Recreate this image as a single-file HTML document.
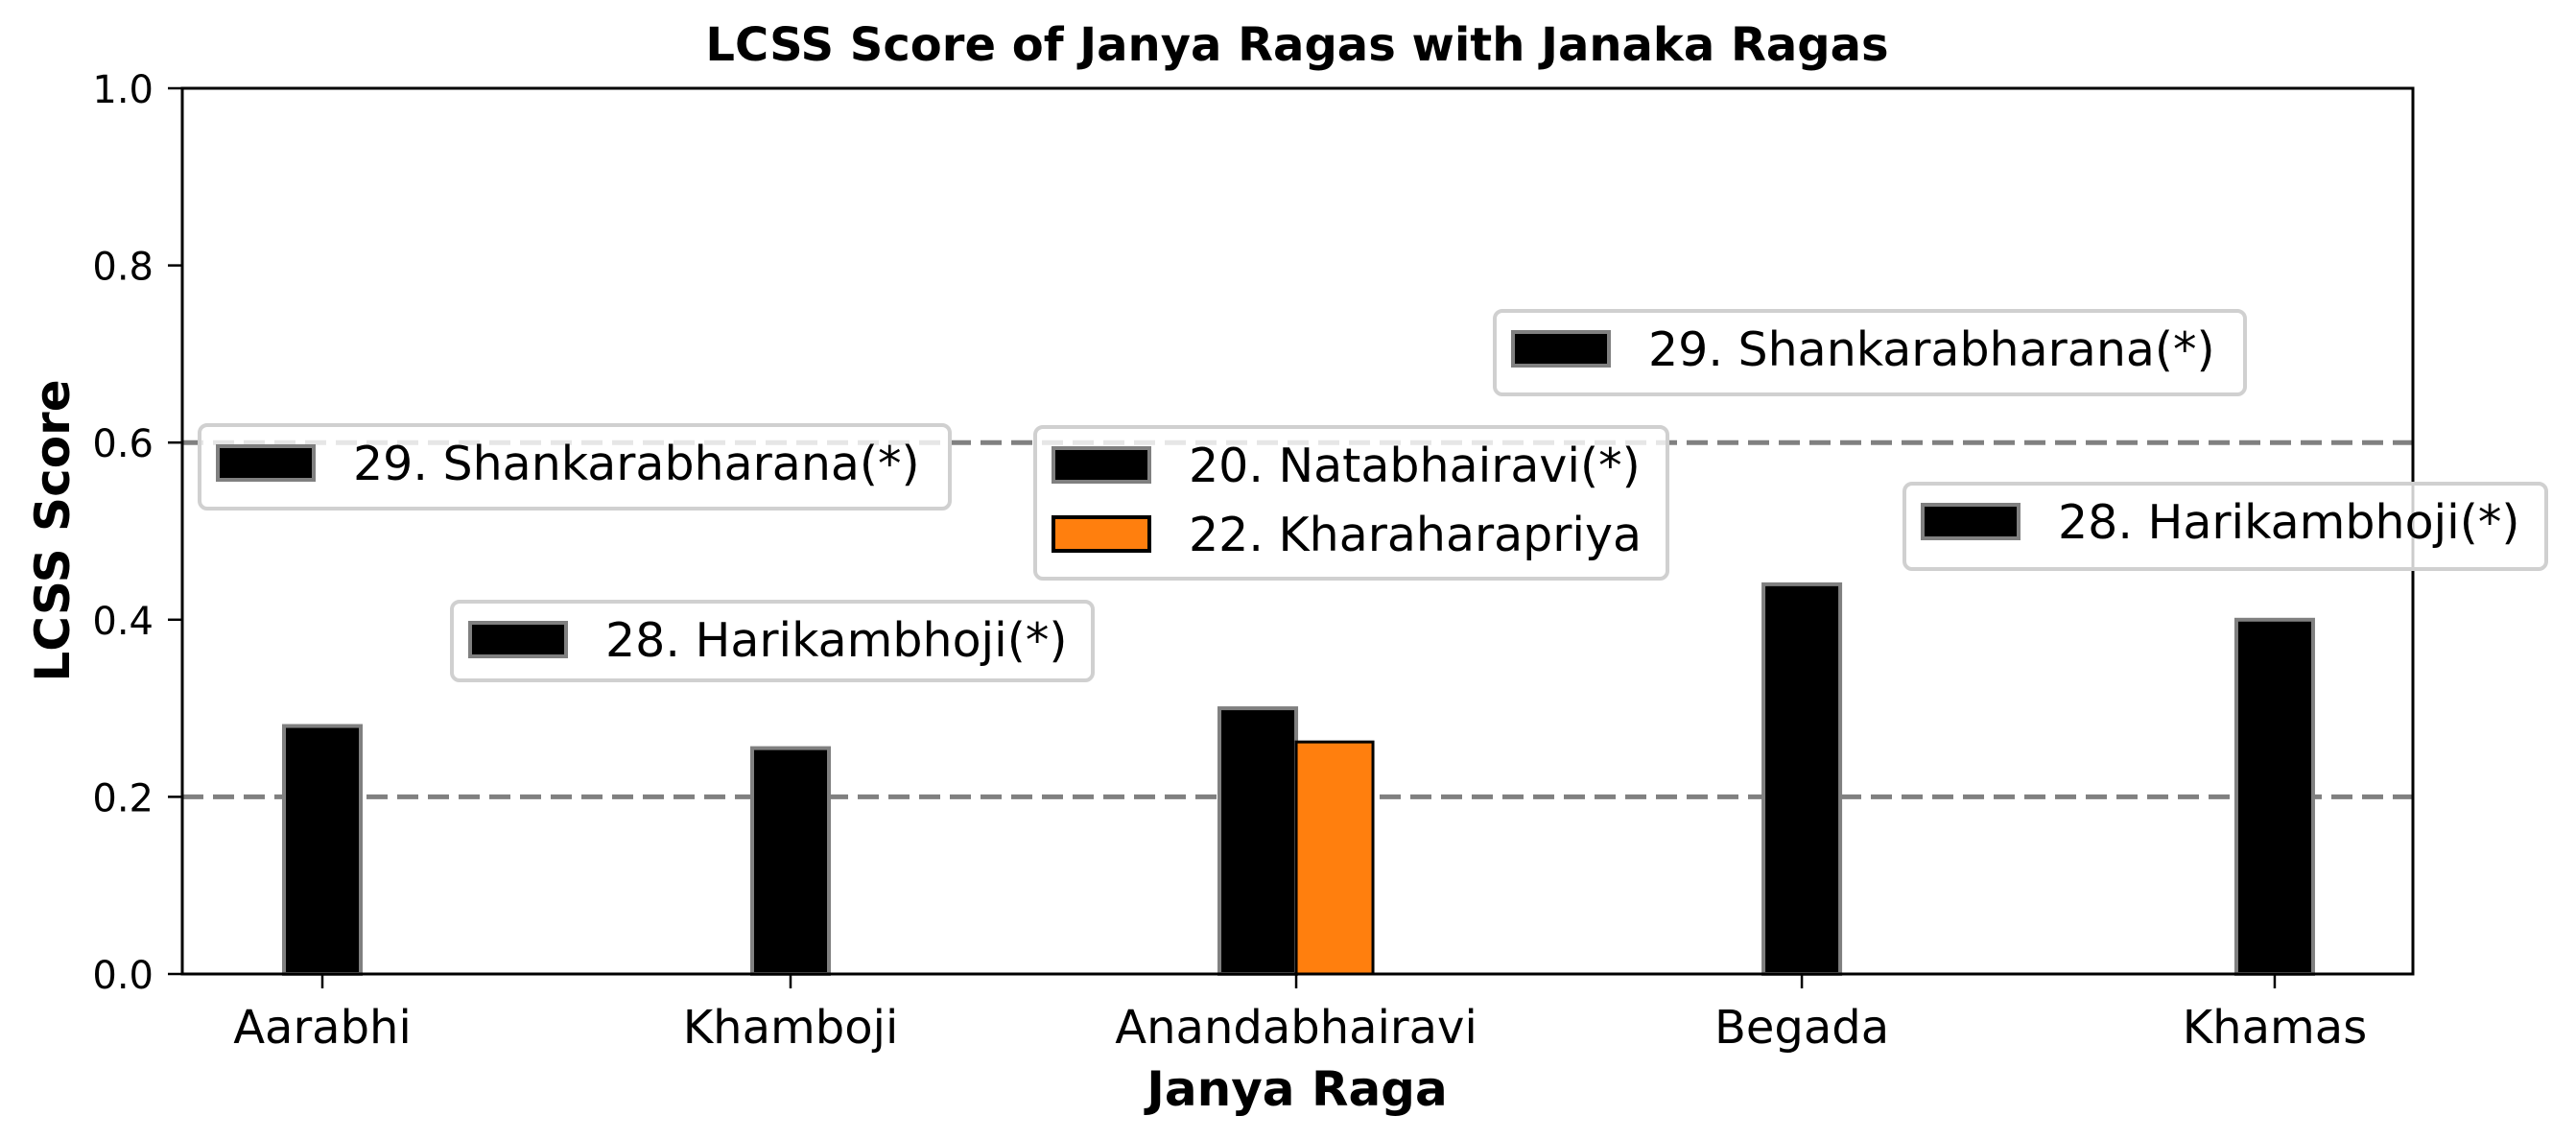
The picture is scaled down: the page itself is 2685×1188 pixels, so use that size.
<!DOCTYPE html>
<html><head><meta charset="utf-8"><style>
html,body{margin:0;padding:0;background:#fff;}
svg{display:block;font-family:"DejaVu Sans","Liberation Sans",sans-serif;}
</style></head><body>
<svg id="chart" width="2685" height="1188" viewBox="0 0 2685 1188">
<text x="1352" y="63" text-anchor="middle" font-size="48" font-weight="bold">LCSS Score of Janya Ragas with Janaka Ragas</text>
<g id="grid"></g><g id="bars"></g><g id="axes"></g><g id="legends"></g>
<text x="1352" y="1152" text-anchor="middle" font-size="50" font-weight="bold">Janya Raga</text>
<text transform="translate(72,553) rotate(-90)" text-anchor="middle" font-size="50" font-weight="bold">LCSS Score</text>
</svg>
<script>
const categories=["Aarabhi","Khamboji","Anandabhairavi","Begada","Khamas"];
const catPos=[0,1,2.08,3.16,4.17];
const blackVals=[0.28,0.255,0.30,0.44,0.40];
const orangeVals=[null,null,0.262,null,null];
const yTicks=[0,0.2,0.4,0.6,0.8,1.0];
const yTickLabels=["0.0","0.2","0.4","0.6","0.8","1.0"];
const refLines=[0.2,0.6];
const NS="http://www.w3.org/2000/svg";
const L=190,R=2515,T=92,B=1015;
const xS=v=>336+v*(824-336);
const yS=v=>B-v*(B-T);
function mk(tag,attrs,parent,text){const e=document.createElementNS(NS,tag);for(const k in attrs)e.setAttribute(k,attrs[k]);if(text!==undefined)e.textContent=text;parent.appendChild(e);return e;}
const grid=document.getElementById('grid'),bars=document.getElementById('bars'),axes=document.getElementById('axes'),leg=document.getElementById('legends');
refLines.forEach(v=>{const l=mk('line',{x1:L,x2:R,y1:yS(v),y2:yS(v),stroke:'#808080','stroke-width':5,'stroke-dasharray':'22 10'},grid);

});
const bw=80;
categories.forEach((c,i)=>{
 const cx=xS(catPos[i]);
 const hasO=orangeVals[i]!==null;
 const bx=hasO?cx-bw:cx-bw/2;
 const r=mk('rect',{x:bx,y:yS(blackVals[i]),width:bw,height:yS(0)-yS(blackVals[i]),fill:'#000',stroke:'#808080','stroke-width':4},bars);
 
 
 if(hasO){const o=mk('rect',{x:cx,y:yS(orangeVals[i]),width:bw,height:yS(0)-yS(orangeVals[i]),fill:'#ff7f0e',stroke:'#000','stroke-width':3},bars);
 
 }
 const t=mk('line',{x1:cx,x2:cx,y1:B,y2:B+15,stroke:'#000','stroke-width':2.5},axes);
 
 
 const tl=mk('text',{x:cx,y:1087,'text-anchor':'middle','font-size':48},axes,c);
 
 
});
yTicks.forEach((v,i)=>{
 const t=mk('line',{x1:L-15,x2:L,y1:yS(v),y2:yS(v),stroke:'#000','stroke-width':2.5},axes);
 
 
 const tl=mk('text',{x:160,y:yS(v)+15,'text-anchor':'end','font-size':40},axes,yTickLabels[i]);
 
 
});
const frame=mk('rect',{x:L,y:T,width:R-L,height:B-T,fill:'none',stroke:'#000','stroke-width':3},axes);


const legends=[
 {x:208,y:443,w:782,h:87,items:[["29. Shankarabharana(*)","#000","#808080"]]},
 {x:471,y:627,w:668,h:82,items:[["28. Harikambhoji(*)","#000","#808080"]]},
 {x:1079,y:445,w:659,h:158,items:[["20. Natabhairavi(*)","#000","#808080"],["22. Kharaharapriya","#ff7f0e","#000"]]},
 {x:1558,y:324,w:782,h:87,items:[["29. Shankarabharana(*)","#000","#808080"]]},
 {x:1985,y:504,w:669,h:89,items:[["28. Harikambhoji(*)","#000","#808080"]]}
];
legends.forEach(lg=>{
 const g=mk('g',{},leg);
 
 
 mk('rect',{x:lg.x,y:lg.y,width:lg.w,height:lg.h,rx:8,fill:'rgba(255,255,255,0.8)',stroke:'#d0d0d0','stroke-width':4},g);
 lg.items.forEach((it,j)=>{
  const py=lg.y+22+j*72;
  const p=mk('rect',{x:lg.x+19,y:py,width:100,height:35,fill:it[1],stroke:it[2],'stroke-width':4},g);
  
  
  const t=mk('text',{x:lg.x+160,y:py+35,'font-size':49},g,it[0]);
  
  
 });
});
</script>
</body></html>
